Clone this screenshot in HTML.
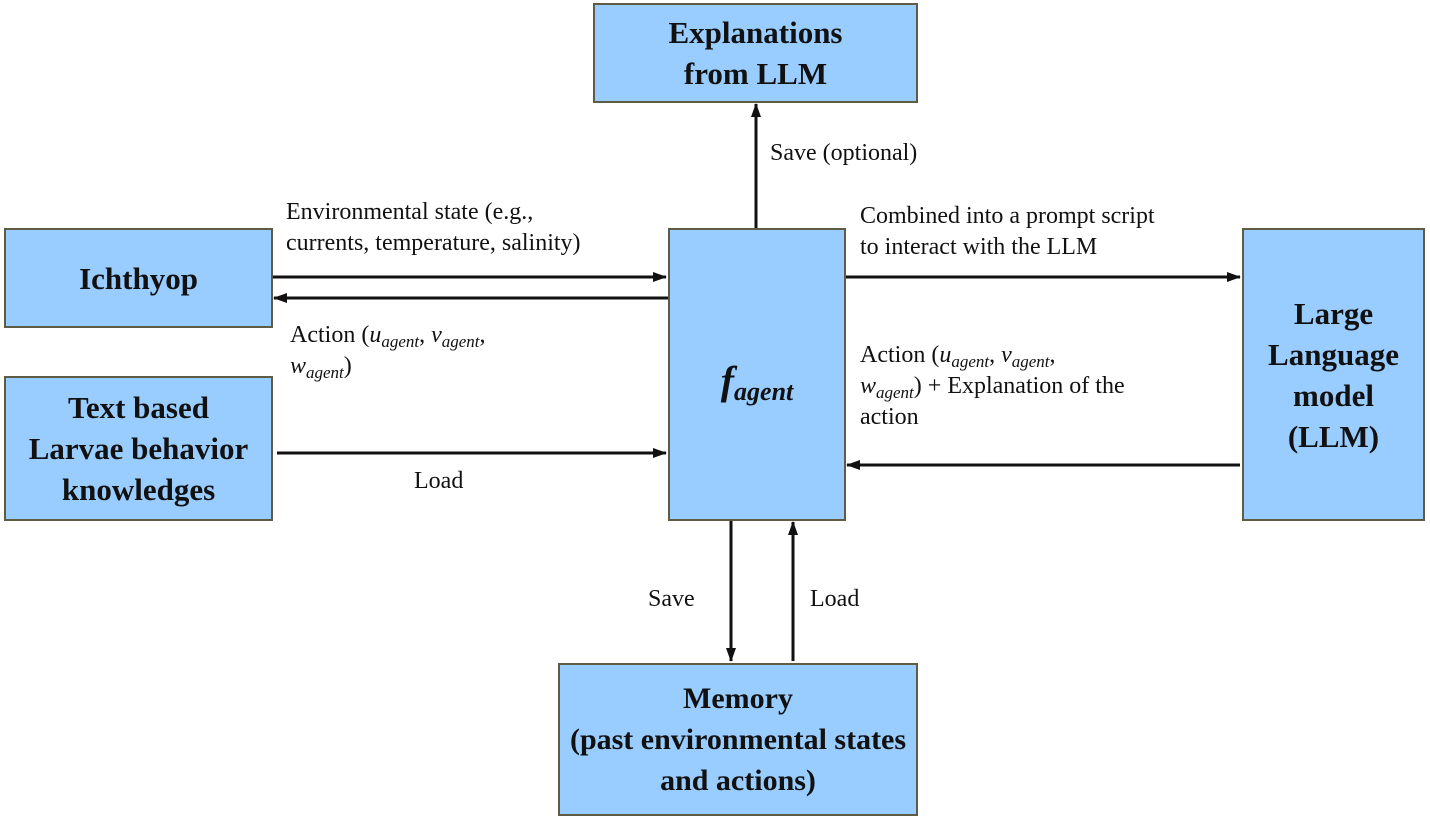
<!DOCTYPE html>
<html><head><meta charset="utf-8"><style>
body{margin:0;width:1430px;height:831px;background:#fff;position:relative;overflow:hidden;font-family:"Liberation Serif",serif;}
.b{position:absolute;background:#99ccff;border:2px solid #5e5c45;box-sizing:border-box;display:flex;align-items:center;justify-content:center;text-align:center;font-weight:bold;font-size:31px;line-height:41px;color:#111;white-space:nowrap;}
.t{position:absolute;font-size:24px;line-height:31px;color:#111;white-space:nowrap;}
i{font-style:italic}
sub{font-size:17px;font-style:italic;vertical-align:-5px;line-height:0}
</style></head><body>
<svg width="1430" height="831" style="position:absolute;left:0;top:0">
<defs><marker id="a" markerWidth="14" markerHeight="10" refX="13" refY="5" orient="auto" markerUnits="userSpaceOnUse"><path d="M0,0 L14,5 L0,10 z" fill="#111"/></marker></defs>
<g stroke="#111" stroke-width="3" fill="none">
<line x1="756" y1="228" x2="756" y2="104" marker-end="url(#a)"/>
<line x1="272" y1="277" x2="666" y2="277" marker-end="url(#a)"/>
<line x1="668" y1="298" x2="274" y2="298" marker-end="url(#a)"/>
<line x1="277" y1="453" x2="666" y2="453" marker-end="url(#a)"/>
<line x1="845" y1="277" x2="1240" y2="277" marker-end="url(#a)"/>
<line x1="1240" y1="465" x2="847" y2="465" marker-end="url(#a)"/>
<line x1="731" y1="520" x2="731" y2="661" marker-end="url(#a)"/>
<line x1="793" y1="661" x2="793" y2="522" marker-end="url(#a)"/>
</g></svg>
<div class="b" style="left:593px;top:3px;width:325px;height:100px">Explanations<br>from LLM</div>
<div class="b" style="left:4px;top:228px;width:269px;height:100px">Ichthyop</div>
<div class="b" style="left:4px;top:376px;width:269px;height:145px">Text based<br>Larvae behavior<br>knowledges</div>
<div class="b" style="left:668px;top:228px;width:178px;height:293px;font-size:40px;font-style:italic"><span style="margin-top:12px">f<sub style="font-size:26px;font-weight:bold;vertical-align:-6px">agent</sub></span></div>
<div class="b" style="left:1242px;top:228px;width:183px;height:293px">Large<br>Language<br>model<br>(LLM)</div>
<div class="b" style="left:558px;top:663px;width:360px;height:153px;font-size:30px">Memory<br>(past environmental states<br>and actions)</div>
<div class="t" style="left:770px;top:138px">Save (optional)</div>
<div class="t" style="left:286px;top:197px">Environmental state (e.g.,<br>currents, temperature, salinity)</div>
<div class="t" style="left:290px;top:320px">Action (<i>u</i><sub>agent</sub>, <i>v</i><sub>agent</sub>,<br><i>w</i><sub>agent</sub>)</div>
<div class="t" style="left:414px;top:466px">Load</div>
<div class="t" style="left:860px;top:201px">Combined into a prompt script<br>to interact with the LLM</div>
<div class="t" style="left:860px;top:340px">Action (<i>u</i><sub>agent</sub>, <i>v</i><sub>agent</sub>,<br><i>w</i><sub>agent</sub>) + Explanation of the<br>action</div>
<div class="t" style="left:648px;top:584px">Save</div>
<div class="t" style="left:810px;top:584px">Load</div>
</body></html>
